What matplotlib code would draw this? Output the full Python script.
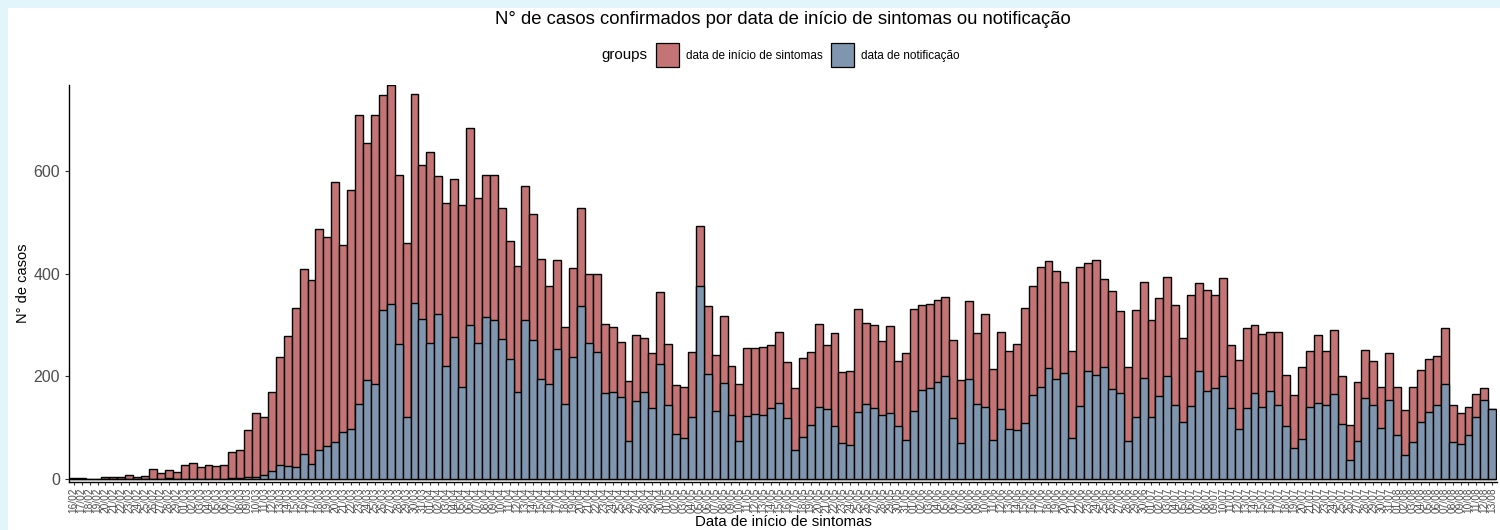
import matplotlib
matplotlib.use("Agg")
import matplotlib.pyplot as plt
import pandas as pd
from matplotlib.patches import Patch, Rectangle

plt.rcParams['font.family'] = ['Liberation Sans', 'DejaVu Sans']

# daily labels, 16/02 -> 13/08 (2020)
first_day = "2020-02-16"
last_day = "2020-08-13"
dias = pd.date_range(first_day, last_day, freq="D").strftime("%d/%m").tolist()

# casos por data de inicio de sintomas (red)
inicio_sintomas = [
    2, 2, 0, 1, 4, 4, 4, 7, 4, 6, 19, 12, 18, 14, 27, 32, 23, 27, 26, 27,
    53, 56, 95, 128, 121, 170, 237, 279, 334, 410, 388, 487, 472, 579, 457, 563, 709, 655, 709, 749,
    768, 592, 460, 750, 612, 638, 591, 538, 584, 534, 684, 547, 592, 592, 529, 464, 416, 571, 516, 429,
    376, 427, 297, 412, 529, 399, 400, 303, 297, 268, 192, 281, 275, 246, 364, 263, 183, 179, 247, 494,
    337, 242, 318, 221, 186, 255, 255, 257, 262, 287, 229, 177, 235, 247, 302, 261, 284, 208, 211, 332,
    305, 301, 269, 298, 230, 246, 331, 339, 342, 349, 355, 271, 193, 347, 284, 321, 214, 287, 250, 264,
    334, 376, 414, 425, 405, 384, 250, 414, 422, 427, 390, 367, 327, 218, 329, 384, 310, 352, 393, 340,
    275, 358, 382, 368, 358, 392, 262, 232, 295, 300, 282, 287, 287, 203, 163, 218, 250, 280, 250, 290,
    200, 105, 190, 252, 230, 180, 245, 180, 135, 180, 212, 233, 240, 295, 145, 128, 140, 165, 178, 137,
]

# casos por data de notificacao (blue)
notificacao = [
    0, 0, 0, 0, 0, 0, 0, 0, 0, 0, 0, 0, 2, 0, 0, 0, 0, 0, 0, 0,
    2, 2, 4, 3, 7, 16, 28, 25, 23, 48, 30, 56, 65, 72, 92, 97, 146, 193, 185, 329,
    341, 263, 120, 343, 311, 266, 321, 220, 276, 180, 300, 266, 315, 310, 272, 233, 170, 310, 271, 195,
    186, 253, 146, 238, 337, 266, 247, 168, 170, 160, 75, 153, 170, 138, 224, 144, 87, 79, 121, 376,
    205, 133, 188, 125, 74, 123, 127, 124, 138, 149, 118, 56, 81, 105, 141, 136, 104, 71, 66, 130,
    147, 138, 124, 128, 103, 77, 133, 173, 177, 190, 201, 118, 70, 194, 146, 140, 76, 136, 97, 95,
    110, 164, 180, 217, 195, 207, 80, 142, 210, 203, 219, 175, 167, 74, 120, 196, 120, 162, 200, 145,
    112, 143, 210, 172, 178, 200, 138, 97, 138, 168, 140, 172, 145, 103, 60, 78, 140, 148, 145, 165,
    108, 37, 75, 158, 145, 100, 155, 85, 47, 73, 112, 130, 145, 185, 72, 68, 85, 120, 155, 137,
]

grupos = ["data de início de sintomas", "data de notificação"]
cores = ["#c47474", "#7f96ae"]

fig = plt.figure(figsize=(15, 5.3), dpi=100)
fig.patch.set_facecolor("#e1f5fb")
# white panel inside the light blue frame (behind everything)
fig.patches.append(Rectangle((8 / 1500, 0), 1, 1 - 8 / 530, transform=fig.transFigure,
                             facecolor="white", edgecolor="none", zorder=-10))

ax = fig.add_axes([69 / 1500, 1 - 482 / 530, (1497 - 69) / 1500, (482 - 85) / 530])
ax.set_zorder(2)
ax.set_facecolor("white")

x = range(len(dias))
ax.bar(x, inicio_sintomas, width=1.0, color=cores[0], edgecolor="black", linewidth=1.0)
ax.bar(x, notificacao, width=1.0, color=cores[1], edgecolor="black", linewidth=1.0)

ax.set_xlim(-0.6, len(dias) - 0.4)
ax.set_ylim(-5.8, 768)
ax.set_yticks([0, 200, 400, 600])
ax.set_xticks(list(x))
ax.set_xticklabels(dias, rotation=90, fontsize=7.3, color="#4d4d4d")
ax.tick_params(axis="y", labelsize=11.5, labelcolor="#4d4d4d", length=3, color="#333333")
ax.tick_params(axis="x", length=2.5, color="#333333", pad=1.5)

for s in ["top", "right"]:
    ax.spines[s].set_visible(False)
for s in ["left", "bottom"]:
    ax.spines[s].set_linewidth(1.0)
    ax.spines[s].set_color("black")

ax.set_ylabel("N° de casos", fontsize=10.5, labelpad=2)
fig.text(783 / 1500, 1 - 522 / 530, "Data de início de sintomas", ha="center", va="center", fontsize=10.8)

fig.text(783 / 1500, 1 - 20 / 530,
         "N° de casos confirmados por data de início de sintomas ou notificação",
         ha="center", va="center", fontsize=13.3)

# legend: "groups" + two boxes
fig.text(624 / 1500, 1 - 55 / 530, "groups", ha="center", va="center", fontsize=10.8)
handles = [Patch(facecolor=c, edgecolor="black", linewidth=0.9) for c in cores]
fig.legend(handles, grupos, loc="center left", bbox_to_anchor=(656 / 1500, 1 - 55 / 530),
           ncol=2, frameon=False, fontsize=8.5, handlelength=1.95, handleheight=2.7,
           handletextpad=0.6, columnspacing=0.7, borderpad=0, borderaxespad=0)

fig.savefig("out.png", dpi=100, facecolor=fig.get_facecolor())
